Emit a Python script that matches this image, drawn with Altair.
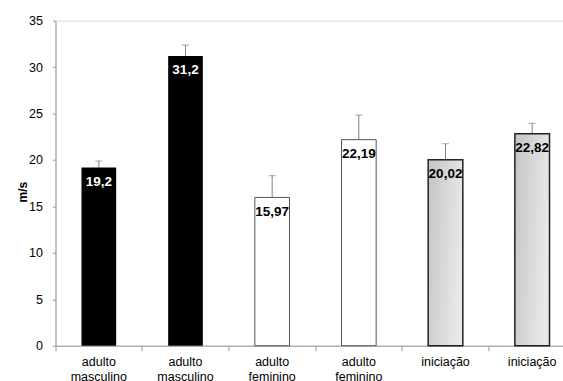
import altair as alt
import pandas as pd

ids = ["0", "1", "2", "3", "4", "5"]
groups = ["m", "m", "f", "f", "i", "i"]
values = [19.2, 31.2, 15.97, 22.19, 20.02, 22.82]
uppers = [19.89, 32.38, 18.31, 24.84, 21.75, 23.95]
value_labels = ["19,2", "31,2", "15,97", "22,19", "20,02", "22,82"]
x_labels = ["adulto|masculino", "adulto|masculino", "adulto|feminino",
            "adulto|feminino", "iniciação", "iniciação"]
y_ticks = [0, 5, 10, 15, 20, 25, 30, 35]

df = pd.DataFrame({"id": ids, "group": groups, "value": values,
                   "upper": uppers, "lbl": value_labels})

FONT = "Liberation Sans"
label_arr = "[" + ",".join("'" + s + "'" for s in x_labels) + "]"

x_enc = alt.X("id:N", sort=ids,
              scale=alt.Scale(range=[0, 520], paddingInner=0, paddingOuter=0),
              axis=alt.Axis(title=None, bandPosition=0, labelAngle=0,
                            labelExpr="split(" + label_arr + "[toNumber(datum.value)], '|')",
                            labelFont=FONT, labelFontSize=12.5, labelColor="#000",
                            labelLineHeight=15, labelPadding=5,
                            tickSize=5, tickColor="#999", domainColor="#999",
                            labelBaseline="top"))
y_enc = alt.Y("value:Q",
              scale=alt.Scale(domain=[0, 35], nice=False, zero=True),
              axis=alt.Axis(title="m/s", values=y_ticks, grid=False,
                            tickSize=3, tickColor="#999", domainColor="#999",
                            labelFont=FONT, labelFontSize=12.5, labelColor="#000",
                            labelPadding=10,
                            titleFont=FONT, titleFontSize=12, titleFontWeight="bold",
                            titleColor="#000", titleAngle=270, titleX=-33, titleY=171,
                            titleAlign="center", titleBaseline="middle"))

base = alt.Chart(df)
bw = alt.RelativeBandSize(0.4)

black = base.transform_filter("datum.group == 'm'").mark_bar(
    width=bw, color="#000").encode(x=x_enc, y=y_enc)
white = base.transform_filter("datum.group == 'f'").mark_bar(
    width=bw, fill="#fff", stroke="#555", strokeWidth=1).encode(x=x_enc, y=y_enc)
grad = base.transform_filter("datum.group == 'i'").mark_bar(
    width=bw,
    fill=alt.LinearGradient(gradient="linear", x1=0, y1=0, x2=1, y2=0.3,
                            stops=[alt.GradientStop(color="#c4c4c4", offset=0),
                                   alt.GradientStop(color="#e8e8e8", offset=1)]),
    stroke="#222", strokeWidth=1.5).encode(x=x_enc, y=y_enc)

err = base.mark_rule(color="#808080", strokeWidth=1).encode(
    x=x_enc, y="value:Q", y2="upper:Q")
cap = base.mark_tick(color="#808080", thickness=1, size=7).encode(
    x=x_enc, y=alt.Y("upper:Q"))

txt = base.mark_text(font=FONT, fontSize=13.5, fontWeight="bold", dy=14.5,
                     baseline="middle").encode(
    x=x_enc, y="value:Q", text="lbl:N",
    color=alt.condition("datum.group == 'm'", alt.value("#fff"), alt.value("#000")))

chart = alt.layer(err, cap, black, white, grad, txt).properties(
    width=507.5, height=325,
    autosize=alt.AutoSizeParams(type="none"),
    padding={"left": 55.5, "top": 20.7, "right": 0, "bottom": 35.3},
).configure_view(stroke=None).configure(background="#fff")

chart.save("out.html", embed_options={"renderer": "svg", "actions": False})
